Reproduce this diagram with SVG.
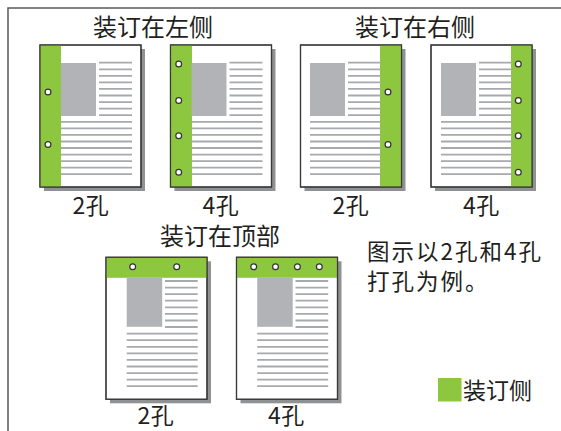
<svg xmlns="http://www.w3.org/2000/svg" xmlns:xlink="http://www.w3.org/1999/xlink" width="561" height="431" viewBox="0 0 561 431">
<style>
.frame{fill:none;stroke:#5a5a5a;stroke-width:1.5}
.shadow{fill:#8f9193}
.paper{fill:#fff;stroke:#3a3a3a;stroke-width:1.2}
.green{fill:#8dc63f}
.img{fill:#b1b3b6}
.ln{stroke:#a7a9ac;stroke-width:1.8}
.hole{fill:#fff;stroke:#333;stroke-width:1.2}
.border{fill:none;stroke:#3a3a3a;stroke-width:1.2}
text{font-family:"Noto Sans CJK SC","Noto Sans",sans-serif;fill:#231f20}
.t{font-size:24px;text-anchor:middle}
.l{font-size:23px;text-anchor:middle;letter-spacing:0.5px}
.n{font-size:22.5px;letter-spacing:2px}
</style>
<defs>
<g id="contentL">
<rect class="img" x="21" y="18" width="35" height="53"/>
<g class="ln">
<line x1="59" y1="17.7" x2="92" y2="17.7"/>
<line x1="59" y1="24.3" x2="92" y2="24.3"/>
<line x1="59" y1="30.8" x2="92" y2="30.8"/>
<line x1="59" y1="37.4" x2="92" y2="37.4"/>
<line x1="59" y1="43.9" x2="92" y2="43.9"/>
<line x1="59" y1="50.5" x2="92" y2="50.5"/>
<line x1="59" y1="57.1" x2="92" y2="57.1"/>
<line x1="59" y1="63.7" x2="92" y2="63.7"/>
<line x1="59" y1="70.2" x2="92" y2="70.2"/>
<line x1="21" y1="76.8" x2="92" y2="76.8"/>
<line x1="21" y1="83.3" x2="92" y2="83.3"/>
<line x1="21" y1="89.9" x2="92" y2="89.9"/>
<line x1="21" y1="96.5" x2="92" y2="96.5"/>
<line x1="21" y1="103.0" x2="92" y2="103.0"/>
<line x1="21" y1="109.6" x2="92" y2="109.6"/>
<line x1="21" y1="116.1" x2="92" y2="116.1"/>
<line x1="21" y1="122.7" x2="92" y2="122.7"/>
<line x1="21" y1="129.2" x2="92" y2="129.2"/>
</g>
</g>
<g id="contentT">
<rect class="img" x="20.7" y="20.5" width="35.5" height="49"/>
<g class="ln">
<line x1="59" y1="23.7" x2="91.7" y2="23.7"/>
<line x1="59" y1="30.3" x2="91.7" y2="30.3"/>
<line x1="59" y1="36.9" x2="91.7" y2="36.9"/>
<line x1="59" y1="43.4" x2="91.7" y2="43.4"/>
<line x1="59" y1="50.0" x2="91.7" y2="50.0"/>
<line x1="59" y1="56.6" x2="91.7" y2="56.6"/>
<line x1="59" y1="63.2" x2="91.7" y2="63.2"/>
<line x1="59" y1="69.7" x2="91.7" y2="69.7"/>
<line x1="20.7" y1="76.3" x2="91.7" y2="76.3"/>
<line x1="20.7" y1="82.9" x2="91.7" y2="82.9"/>
<line x1="20.7" y1="89.5" x2="91.7" y2="89.5"/>
<line x1="20.7" y1="96.0" x2="91.7" y2="96.0"/>
<line x1="20.7" y1="102.6" x2="91.7" y2="102.6"/>
<line x1="20.7" y1="109.2" x2="91.7" y2="109.2"/>
<line x1="20.7" y1="115.8" x2="91.7" y2="115.8"/>
<line x1="20.7" y1="122.3" x2="91.7" y2="122.3"/>
<line x1="20.7" y1="128.9" x2="91.7" y2="128.9"/>
</g>
</g>
<g id="sheet">
<rect class="shadow" x="4" y="4" width="101" height="142"/>
<rect class="paper" x="0" y="0" width="101" height="142"/>
</g>
</defs>

<g id="frame">
<polyline class="frame" points="8,431 8,8 561,8"/>
</g>

<g id="title-left"><text class="t" x="153" y="36">装订在左侧</text></g>
<g id="title-right"><text class="t" x="415" y="36">装订在右侧</text></g>
<g id="title-top"><text class="t" x="220" y="244.5">装订在顶部</text></g>

<g id="page-left-2" transform="translate(40,45)">
<use xlink:href="#sheet"/>
<rect class="green" x="0" y="0" width="21" height="142"/>
<use xlink:href="#contentL"/>
<rect class="border" x="0" y="0" width="101" height="142"/>
<circle class="hole" cx="8" cy="47" r="2.9"/>
<circle class="hole" cx="8" cy="99.5" r="2.9"/>
</g>
<g id="label-left-2"><text class="l" x="91" y="214">2孔</text></g>

<g id="page-left-4" transform="translate(170.5,45)">
<use xlink:href="#sheet"/>
<rect class="green" x="0" y="0" width="21.5" height="142"/>
<use xlink:href="#contentL"/>
<rect class="border" x="0" y="0" width="101" height="142"/>
<circle class="hole" cx="8.2" cy="19" r="2.9"/>
<circle class="hole" cx="8.2" cy="55.5" r="2.9"/>
<circle class="hole" cx="8.2" cy="90.7" r="2.9"/>
<circle class="hole" cx="8.2" cy="127.3" r="2.9"/>
</g>
<g id="label-left-4"><text class="l" x="221" y="214">4孔</text></g>

<g id="page-right-2" transform="translate(300.5,45)">
<use xlink:href="#sheet"/>
<rect class="green" x="79.5" y="0" width="21.5" height="142"/>
<use xlink:href="#contentL" transform="translate(-11.5,0)"/>
<rect class="border" x="0" y="0" width="101" height="142"/>
<circle class="hole" cx="87.5" cy="47" r="2.9"/>
<circle class="hole" cx="87.5" cy="99.5" r="2.9"/>
</g>
<g id="label-right-2"><text class="l" x="351" y="214">2孔</text></g>

<g id="page-right-4" transform="translate(431,45)">
<use xlink:href="#sheet"/>
<rect class="green" x="80" y="0" width="21" height="142"/>
<use xlink:href="#contentL" transform="translate(-11,0)"/>
<rect class="border" x="0" y="0" width="101" height="142"/>
<circle class="hole" cx="87.3" cy="19" r="2.9"/>
<circle class="hole" cx="87.3" cy="55.5" r="2.9"/>
<circle class="hole" cx="87.3" cy="90.7" r="2.9"/>
<circle class="hole" cx="87.3" cy="127.3" r="2.9"/>
</g>
<g id="label-right-4"><text class="l" x="481.5" y="214">4孔</text></g>

<g id="page-top-2" transform="translate(106,257.3)">
<use xlink:href="#sheet"/>
<rect class="green" x="0" y="0" width="101" height="20.5"/>
<use xlink:href="#contentT"/>
<rect class="border" x="0" y="0" width="101" height="142"/>
<circle class="hole" cx="26.7" cy="9.5" r="2.9"/>
<circle class="hole" cx="70.7" cy="9.5" r="2.9"/>
</g>
<g id="label-top-2"><text class="l" x="156" y="424">2孔</text></g>

<g id="page-top-4" transform="translate(236.5,257.3)">
<use xlink:href="#sheet"/>
<rect class="green" x="0" y="0" width="101" height="20.5"/>
<use xlink:href="#contentT"/>
<rect class="border" x="0" y="0" width="101" height="142"/>
<circle class="hole" cx="17.2" cy="9.5" r="2.9"/>
<circle class="hole" cx="39" cy="9.5" r="2.9"/>
<circle class="hole" cx="60.9" cy="9.5" r="2.9"/>
<circle class="hole" cx="82.8" cy="9.5" r="2.9"/>
</g>
<g id="label-top-4"><text class="l" x="286.5" y="424">4孔</text></g>

<g id="note">
<text class="n" x="367" y="260">图示以2孔和4孔</text>
<text class="n" x="367" y="290">打孔为例。</text>
</g>

<g id="legend">
<rect class="green" x="438" y="378" width="23.5" height="23.5"/>
<text x="463" y="399" style="font-size:23px">装订侧</text>
</g>
</svg>
